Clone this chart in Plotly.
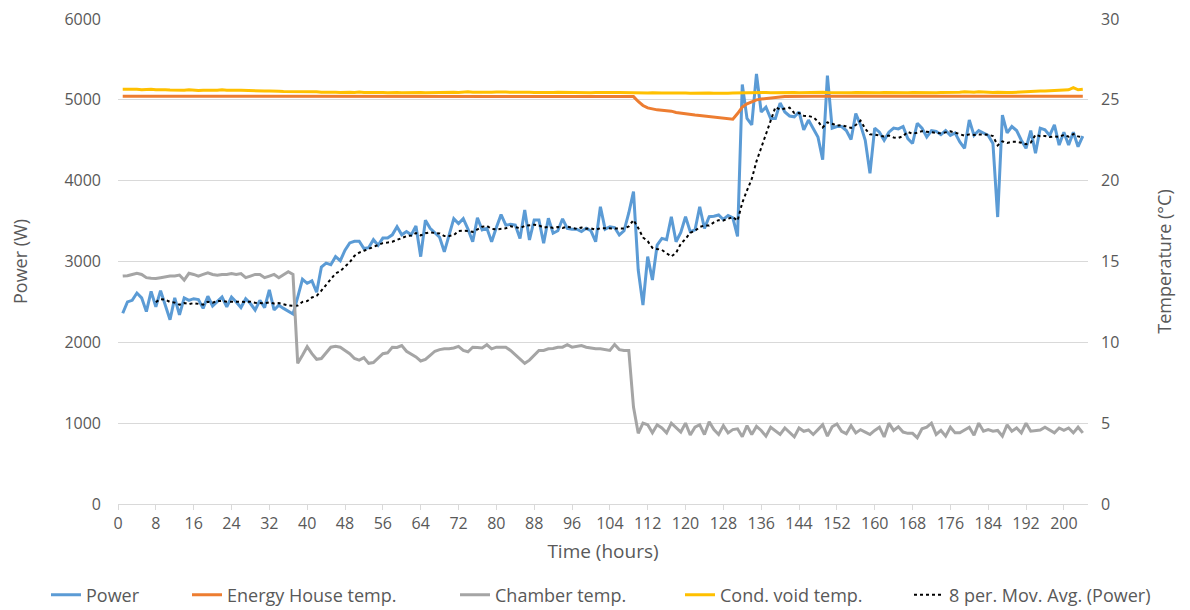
import plotly.graph_objects as go
import pandas as pd

# ---- data (hourly readings) ----
power_w = [
    2360, 2500, 2520, 2610, 2550, 2380, 2630, 2440, 2640, 2460, 2280, 2550,
    2340, 2550, 2520, 2540, 2530, 2420, 2570, 2450, 2510, 2560, 2440, 2560,
    2500, 2430, 2540, 2480, 2400, 2520, 2430, 2650, 2400, 2460, 2420, 2380,
    2350, 2560, 2780, 2730, 2760, 2620, 2930, 2980, 2960, 3060, 3010, 3140,
    3230, 3250, 3250, 3160, 3170, 3270, 3200, 3290, 3290, 3330, 3430, 3330,
    3370, 3330, 3440, 3060, 3510, 3410, 3350, 3300, 3120, 3330, 3530, 3470,
    3530, 3400, 3245, 3540, 3390, 3410, 3245, 3420, 3580, 3450, 3460, 3450,
    3286, 3637, 3266, 3513, 3513, 3225, 3535, 3350, 3380, 3528, 3410, 3400,
    3400, 3370, 3410, 3380, 3245, 3678, 3400, 3430, 3420, 3328, 3380, 3600,
    3864, 2895, 2462, 3060, 2771, 3204, 3286, 3270, 3554, 3245, 3360, 3554,
    3370, 3390, 3678, 3410, 3554, 3560, 3575, 3520, 3570, 3540, 3310, 5190,
    4770, 4690, 5320, 4850, 4910, 4770, 4770, 4960, 4850, 4800, 4790, 4850,
    4630, 4750, 4650, 4540, 4260, 5300, 4650, 4670, 4670, 4620, 4510, 4830,
    4690, 4500, 4090, 4650, 4600, 4500, 4600, 4650, 4640, 4670, 4520, 4460,
    4710, 4650, 4540, 4620, 4610, 4570, 4620, 4560, 4590, 4480, 4400, 4750,
    4560, 4620, 4590, 4560, 4460, 3550, 4810, 4590, 4670, 4620, 4500, 4400,
    4620, 4340, 4650, 4630, 4560, 4690, 4440, 4600, 4440, 4600, 4420, 4550,
]

energy_house_c = [
    25.22, 25.22, 25.22, 25.22, 25.22, 25.22, 25.22, 25.22, 25.22, 25.22, 25.22, 25.22,
    25.22, 25.22, 25.22, 25.22, 25.22, 25.22, 25.22, 25.22, 25.22, 25.22, 25.22, 25.22,
    25.22, 25.22, 25.22, 25.22, 25.22, 25.22, 25.22, 25.22, 25.22, 25.22, 25.22, 25.22,
    25.22, 25.22, 25.22, 25.22, 25.22, 25.22, 25.22, 25.22, 25.22, 25.22, 25.22, 25.22,
    25.22, 25.22, 25.22, 25.22, 25.22, 25.22, 25.22, 25.22, 25.22, 25.22, 25.22, 25.22,
    25.22, 25.22, 25.22, 25.22, 25.22, 25.22, 25.22, 25.22, 25.22, 25.22, 25.22, 25.22,
    25.22, 25.22, 25.22, 25.22, 25.22, 25.22, 25.22, 25.22, 25.22, 25.22, 25.22, 25.22,
    25.22, 25.22, 25.22, 25.22, 25.22, 25.22, 25.22, 25.22, 25.22, 25.22, 25.22, 25.22,
    25.22, 25.22, 25.22, 25.22, 25.22, 25.22, 25.22, 25.22, 25.22, 25.22, 25.22, 25.22,
    25.2, 24.9, 24.65, 24.5, 24.42, 24.38, 24.35, 24.33, 24.3, 24.22, 24.17, 24.15,
    24.1, 24.06, 24.03, 24.0, 23.97, 23.93, 23.88, 23.85, 23.82, 23.8, 24.15, 24.55,
    24.75, 24.9, 25.0, 25.05, 25.09, 25.13, 25.16, 25.18, 25.2, 25.21, 25.22, 25.22,
    25.22, 25.22, 25.22, 25.22, 25.22, 25.22, 25.22, 25.22, 25.22, 25.22, 25.22, 25.22,
    25.22, 25.22, 25.22, 25.22, 25.22, 25.22, 25.22, 25.22, 25.22, 25.22, 25.22, 25.22,
    25.22, 25.22, 25.22, 25.22, 25.22, 25.22, 25.22, 25.22, 25.22, 25.22, 25.22, 25.22,
    25.22, 25.22, 25.22, 25.22, 25.22, 25.22, 25.22, 25.22, 25.22, 25.22, 25.22, 25.22,
    25.22, 25.22, 25.22, 25.22, 25.22, 25.22, 25.22, 25.22, 25.22, 25.22, 25.22, 25.22,
]

chamber_c = [
    14.1, 14.12, 14.2, 14.27, 14.2, 14.0, 13.96, 13.95, 14.0, 14.05, 14.1, 14.1,
    14.16, 13.85, 14.27, 14.2, 14.1, 14.2, 14.3, 14.2, 14.15, 14.2, 14.2, 14.25,
    14.2, 14.25, 14.0, 14.1, 14.2, 14.2, 14.0, 14.1, 14.2, 14.0, 14.2, 14.37,
    14.2, 8.7, 9.2, 9.73, 9.3, 8.95, 9.0, 9.35, 9.7, 9.75, 9.7, 9.5,
    9.3, 9.0, 8.9, 9.05, 8.7, 8.75, 9.0, 9.3, 9.35, 9.7, 9.68, 9.8,
    9.45, 9.3, 9.1, 8.85, 8.95, 9.2, 9.45, 9.55, 9.6, 9.6, 9.65, 9.75,
    9.5, 9.42, 9.7, 9.68, 9.65, 9.85, 9.6, 9.7, 9.68, 9.7, 9.5, 9.25,
    9.0, 8.7, 8.9, 9.2, 9.5, 9.5, 9.6, 9.62, 9.7, 9.7, 9.85, 9.7,
    9.75, 9.8, 9.7, 9.65, 9.6, 9.6, 9.55, 9.5, 9.87, 9.55, 9.5, 9.5,
    6.0, 4.37, 5.0, 4.9, 4.4, 4.9, 4.7, 4.4, 5.0, 4.7, 4.45, 5.0,
    4.27, 4.75, 4.9, 4.3, 5.09, 4.6, 4.3, 4.85, 4.4, 4.6, 4.65, 4.16,
    4.85, 4.3, 4.8, 4.55, 4.2, 4.75, 4.5, 4.3, 4.7, 4.4, 4.15, 4.7,
    4.5, 4.58, 4.3, 4.6, 4.9, 4.2, 4.78, 4.95, 4.5, 4.35, 4.85, 4.4,
    4.6, 4.45, 4.3, 4.55, 4.75, 4.15, 5.0, 4.55, 4.78, 4.45, 4.37, 4.37,
    4.1, 4.65, 4.75, 5.0, 4.3, 4.55, 4.2, 4.75, 4.4, 4.4, 4.55, 4.75,
    4.25, 5.0, 4.5, 4.6, 4.5, 4.55, 4.2, 4.9, 4.5, 4.7, 4.4, 5.0,
    4.5, 4.55, 4.58, 4.75, 4.6, 4.4, 4.7, 4.55, 4.7, 4.4, 4.75, 4.4,
]

cond_void_c = [
    25.65, 25.66, 25.68, 25.66, 25.63, 25.64, 25.66, 25.62, 25.6, 25.62, 25.61, 25.6,
    25.62, 25.6, 25.63, 25.6, 25.58, 25.6, 25.62, 25.6, 25.6, 25.63, 25.6, 25.58,
    25.6, 25.6, 25.58, 25.56, 25.55, 25.56, 25.54, 25.55, 25.56, 25.53, 25.52, 25.52,
    25.5, 25.52, 25.5, 25.5, 25.48, 25.5, 25.47, 25.48, 25.5, 25.47, 25.46, 25.48,
    25.47, 25.46, 25.48, 25.45, 25.46, 25.45, 25.47, 25.45, 25.44, 25.46, 25.45, 25.44,
    25.45, 25.44, 25.46, 25.45, 25.44, 25.45, 25.47, 25.45, 25.46, 25.5, 25.47, 25.46,
    25.48, 25.5, 25.47, 25.46, 25.48, 25.45, 25.47, 25.48, 25.46, 25.48, 25.47, 25.48,
    25.45, 25.46, 25.47, 25.46, 25.45, 25.47, 25.46, 25.45, 25.47, 25.46, 25.45, 25.46,
    25.45, 25.46, 25.45, 25.44, 25.45, 25.46, 25.45, 25.44, 25.45, 25.45, 25.44, 25.45,
    25.45, 25.43, 25.44, 25.43, 25.44, 25.45, 25.43, 25.42, 25.43, 25.42, 25.41, 25.42,
    25.41, 25.42, 25.4, 25.41, 25.42, 25.41, 25.4, 25.41, 25.4, 25.42, 25.43, 25.44,
    25.45, 25.45, 25.44, 25.45, 25.45, 25.44, 25.45, 25.45, 25.44, 25.45, 25.45, 25.44,
    25.45, 25.44, 25.45, 25.46, 25.47, 25.45, 25.44, 25.45, 25.44, 25.45, 25.44, 25.45,
    25.44, 25.45, 25.44, 25.45, 25.44, 25.45, 25.44, 25.45, 25.44, 25.45, 25.44, 25.45,
    25.44, 25.45, 25.44, 25.45, 25.44, 25.45, 25.45, 25.44, 25.45, 25.47, 25.5, 25.48,
    25.47, 25.5, 25.48, 25.46, 25.45, 25.47, 25.48, 25.46, 25.45, 25.47, 25.46, 25.48,
    25.5, 25.52, 25.55, 25.54, 25.55, 25.58, 25.6, 25.6, 25.62, 25.75, 25.62, 25.65,
]

x_tick_labels = list(range(0, 201, 8))
hours = list(range(1, len(power_w) + 1))

# Excel-style 8-period moving average trendline of the power series
mov_avg = pd.Series(power_w).rolling(8).mean().tolist()

FONT = "Open Sans"
TXT = "#595959"
GRID = "#d9d9d9"
W, H = 1190, 610

fig = go.Figure()
fig.add_trace(go.Scatter(x=hours, y=power_w, name="Power", mode="lines",
                         line=dict(color="#5B9BD5", width=3), legend="legend"))
fig.add_trace(go.Scatter(x=hours, y=energy_house_c, name="Energy House temp.", mode="lines",
                         line=dict(color="#ED7D31", width=3), yaxis="y2", legend="legend2"))
fig.add_trace(go.Scatter(x=hours, y=chamber_c, name="Chamber temp.", mode="lines",
                         line=dict(color="#A5A5A5", width=3), yaxis="y2", legend="legend3"))
fig.add_trace(go.Scatter(x=hours, y=cond_void_c, name="Cond. void temp.", mode="lines",
                         line=dict(color="#FFC000", width=3), yaxis="y2", legend="legend4"))
fig.add_trace(go.Scatter(x=hours, y=mov_avg, name="8 per. Mov. Avg. (Power)", mode="lines",
                         line=dict(color="black", width=2, dash="dot"), legend="legend5"))


def leg(text_left_px):
    return dict(orientation="h", xref="container", yref="container",
                x=(text_left_px - 40) / W, xanchor="left",
                y=(H - 595) / H, yanchor="middle",
                font=dict(size=18, color=TXT), bgcolor="rgba(0,0,0,0)", borderwidth=0)


fig.update_layout(
    width=W, height=H,
    margin=dict(l=118, r=102, t=19, b=106, autoexpand=False),
    paper_bgcolor="white", plot_bgcolor="white",
    font=dict(family=FONT, size=16, color=TXT),
    showlegend=True,
    legend=leg(86), legend2=leg(227), legend3=leg(495), legend4=leg(720), legend5=leg(949),
    xaxis=dict(
        range=[0, 205.1], tickmode="array", tickvals=x_tick_labels,
        ticktext=[str(v) for v in x_tick_labels],
        showgrid=False, zeroline=False, showline=True, linecolor=GRID, linewidth=1,
        ticks="outside", ticklen=5, tickcolor=GRID,
        tickfont=dict(size=16, color=TXT),
        title=dict(text="Time (hours)", font=dict(size=19, color=TXT), standoff=11),
    ),
    yaxis=dict(
        range=[0, 6000], dtick=1000, showgrid=True, gridcolor=GRID, gridwidth=1,
        zeroline=False, showline=False, ticks="", tickfont=dict(size=16, color=TXT),
        ticklabelstandoff=16,
        title=dict(text="Power (W)", font=dict(size=18, color=TXT), standoff=32),
    ),
    yaxis2=dict(
        range=[0, 30], dtick=5, overlaying="y", side="right", showgrid=False,
        zeroline=False, showline=False, ticks="", tickfont=dict(size=16, color=TXT),
        ticklabelstandoff=12,
        title=dict(text="Temperature (°C)", font=dict(size=18, color=TXT), standoff=40),
    ),
)

fig.write_html("out.html", config={"displayModeBar": False},
               post_script="document.body.style.margin='0px';")
